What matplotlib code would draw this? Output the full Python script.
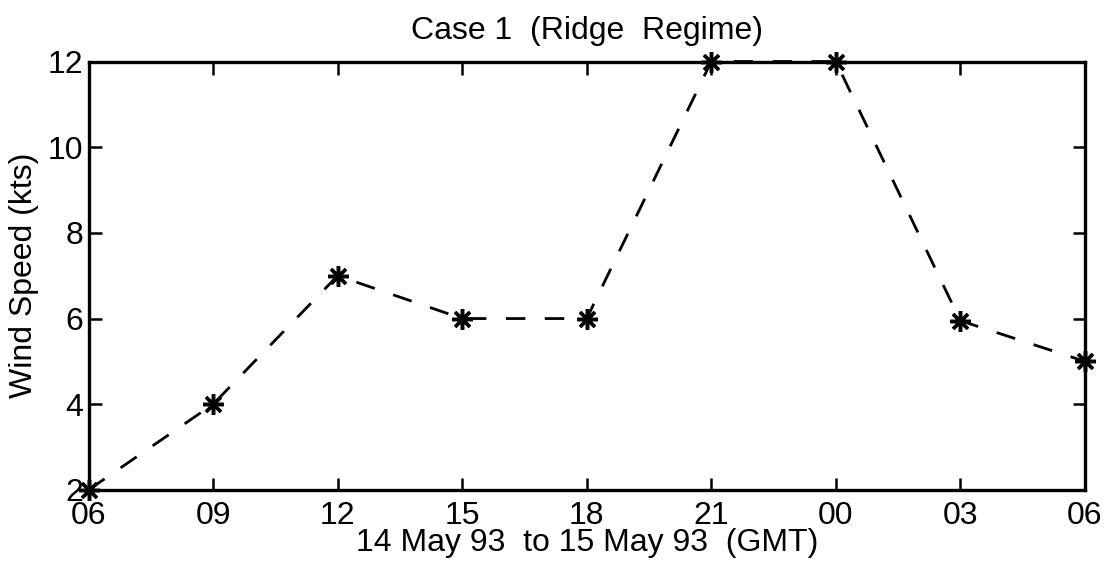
import matplotlib
matplotlib.use("Agg")
import matplotlib.pyplot as plt

hours = [0, 3, 6, 9, 12, 15, 18, 21, 24]
tick_labels = ["06", "09", "12", "15", "18", "21", "00", "03", "06"]
wind_speed = [2.0, 4.0, 7.0, 6.0, 6.0, 12.0, 12.0, 5.95, 5.0]
y_ticks = [2, 4, 6, 8, 10, 12]

plt.rcParams['font.family'] = ['Liberation Sans', 'DejaVu Sans']

fig = plt.figure(figsize=(11.07, 5.75), dpi=100)
ax = fig.add_axes([0.080, 0.148, 0.900, 0.745])

ax.plot(hours, wind_speed, linestyle=(0, (7, 7)), color='black', linewidth=2.0,
        marker=(8, 2, 0), markersize=15, markeredgewidth=2.5,
        markeredgecolor='black', clip_on=False, zorder=2)

ax.set_xlim(0, 24)
ax.set_ylim(2, 12)
ax.set_xticks(hours)
ax.set_xticklabels(tick_labels)
ax.set_yticks(y_ticks)
ax.tick_params(direction='in', length=9, width=1.8, labelsize=23,
               top=True, right=True)
ax.tick_params(axis='x', pad=8)
ax.tick_params(axis='y', pad=4)
for s in ax.spines.values():
    s.set_linewidth(2.4)
    s.set_zorder(3)

ax.set_title("Case 1  (Ridge  Regime)", fontsize=23, pad=16)
ax.set_xlabel("14 May 93  to 15 May 93  (GMT)", fontsize=23, labelpad=-2)
ax.set_ylabel("Wind Speed (kts)", fontsize=23, labelpad=6)

fig.savefig("out.png", dpi=100, facecolor='white')
